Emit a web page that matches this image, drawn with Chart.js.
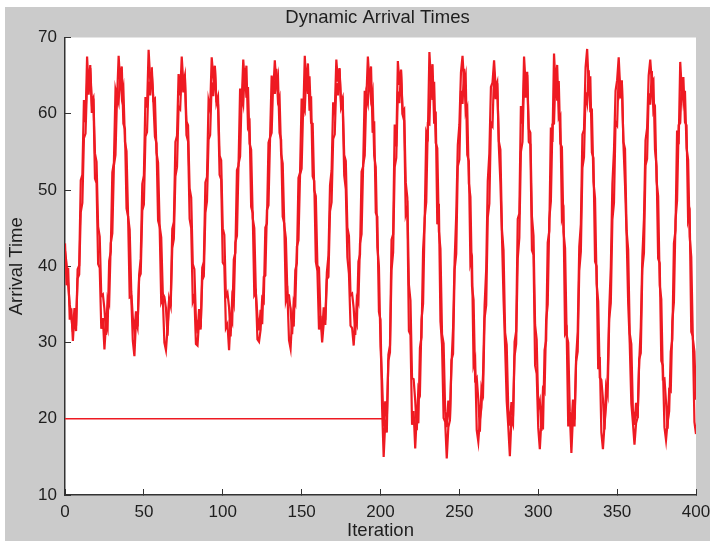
<!DOCTYPE html>
<html>
<head>
<meta charset="utf-8">
<title>Dynamic Arrival Times</title>
<script src="https://cdn.jsdelivr.net/npm/chart.js@4.4.1/dist/chart.umd.min.js"></script>
<style>
  html, body { margin: 0; padding: 0; background: #ffffff; }
  #chart { display: block; }
</style>
</head>
<body>
<canvas id="chart" width="710" height="541"></canvas>
<script>
// arrival times per iteration (0..400), one period at a time.
// two traces overlap: the outer one swings wider, the inner one sits inside it
const arrivalTimesA = [
  43.0, 37.5, 39.8, 33.0, 34.5,
  30.2, 33.8, 31.5, 39.6, 40.1, 51.3, 52.0, 61.8, 58.9, 67.5, 63.2, 66.4, 60.1, 62.0, 51.5, 50.9, 40.3, 39.8, 31.8, 33.2,
  29.1, 32.6, 31.8, 40.7, 41.9, 52.3, 53.6, 63.1, 62.0, 67.6, 64.1, 66.2, 58.7, 58.0, 47.6, 46.5, 35.9, 36.0, 30.2,
  28.2, 32.9, 32.0, 38.9, 41.0, 50.8, 51.9, 62.2, 60.8, 68.4, 64.5, 65.3, 61.7, 57.0, 56.1, 46.0, 45.2, 35.3, 35.9, 30.0,
  29.0, 31.8, 35.6, 35.2, 44.9, 45.8, 56.3, 57.1, 65.2, 62.4, 67.5, 64.0, 65.0, 57.2, 56.4, 46.2, 45.0, 35.4, 36.1, 29.8,
  29.6, 32.9, 31.7, 39.8, 40.6, 51.0, 51.7, 61.7, 60.6, 67.4, 64.8, 66.3, 61.6, 61.2, 52.0, 51.4, 40.5, 40.1, 31.9, 32.4,
  29.0, 33.2, 32.6, 40.9, 41.8, 52.6, 53.2, 63.3, 61.6, 67.1, 63.9, 66.3, 58.3, 58.8, 47.8, 47.0, 36.2, 36.6, 30.4,
  30.1, 31.7, 35.8, 35.4, 45.1, 45.6, 56.2, 56.9, 65.0, 62.7, 67.0, 63.8, 64.9, 57.5, 56.6, 46.5, 45.6, 35.5, 36.4, 30.3,
  29.2, 33.4, 32.1, 39.5, 40.4, 51.6, 52.3, 62.0, 59.6, 67.6, 63.4, 66.6, 60.4, 62.3, 51.8, 51.2, 40.6, 39.4, 31.7, 33.5,
  30.0, 32.5, 33.0, 39.2, 41.4, 50.6, 52.6, 61.5, 60.3, 67.1, 64.2, 65.9, 60.8, 61.5, 51.9, 50.1, 41.2, 39.0, 32.2, 31.9,
  29.6, 32.9, 32.3, 40.6, 41.5, 52.4, 53.1, 63.0, 61.8, 67.5, 64.0, 66.2, 57.5, 59.0, 47.0, 46.5, 34.0, 33.0, 21.5,
  15.0, 19.5, 18.2, 28.4, 29.6, 43.5, 44.2, 58.6, 55.7, 66.9, 63.8, 65.7, 59.9, 59.1, 46.8, 47.6, 31.5, 31.0, 19.2, 21.0,
  16.1, 20.6, 19.4, 29.3, 30.7, 42.2, 45.9, 57.6, 57.0, 68.1, 64.3, 66.5, 58.7, 60.3, 45.5, 48.2, 32.8, 29.7, 20.1, 19.6,
  14.8, 18.9, 19.8, 27.1, 31.9, 40.8, 46.7, 55.9, 58.6, 65.4, 67.6, 63.9, 65.0, 54.6, 53.8, 40.2, 40.9, 27.0, 27.8, 18.5,
  17.0, 19.9, 21.5, 25.8, 34.9, 39.6, 51.2, 54.8, 63.5, 64.1, 67.0, 63.4, 64.1, 55.8, 51.0, 43.9, 35.6, 29.4, 22.3, 19.0,
  15.1, 20.0, 19.3, 30.1, 31.5, 46.2, 46.9, 61.0, 58.7, 67.5, 63.8, 65.5, 56.3, 56.0, 42.1, 41.5, 27.0, 25.9, 18.8,
  16.0, 19.8, 18.6, 29.0, 30.2, 43.1, 44.6, 58.2, 56.3, 67.9, 63.5, 66.4, 59.4, 59.8, 46.3, 47.1, 31.2, 31.7, 19.0, 20.8,
  15.5, 20.3, 19.0, 28.0, 31.3, 42.6, 45.5, 57.3, 57.9, 66.1, 68.5, 63.6, 64.9, 54.9, 54.2, 40.6, 40.0, 26.5, 28.1, 18.2,
  16.0, 19.2, 21.8, 25.5, 34.4, 39.9, 50.8, 55.2, 63.0, 64.4, 67.4, 63.1, 64.4, 56.0, 50.7, 44.2, 35.2, 29.8, 22.0, 19.5,
  16.6, 19.4, 20.2, 27.5, 32.0, 41.3, 46.2, 56.5, 58.1, 65.0, 67.1, 64.2, 64.5, 55.3, 53.1, 41.0, 40.4, 27.6, 27.0, 18.9,
  17.2, 19.6, 21.0, 28.8, 30.4, 43.0, 44.7, 57.8, 56.0, 66.8, 63.0, 64.8, 58.9, 58.5, 46.0, 46.8, 31.4, 30.8, 19.6, 18.0
];

const arrivalTimesB = [
  42.0, 40.3, 37.6, 35.0, 33.4,
  31.4, 34.5, 32.2, 38.4, 38.9, 47.1, 48.3, 56.8, 57.4, 64.0, 62.5, 66.0, 61.6, 62.1, 54.8, 53.7, 45.2, 43.9, 36.1, 36.3,
  34.4, 31.0, 35.8, 35.1, 43.0, 44.3, 53.2, 54.6, 62.4, 61.5, 65.9, 62.3, 63.4, 56.3, 55.1, 46.5, 44.8, 36.7, 33.2,
  31.5, 34.1, 32.1, 38.5, 39.0, 47.3, 48.1, 57.0, 57.6, 64.2, 62.4, 66.1, 61.8, 62.0, 54.9, 53.6, 45.3, 43.8, 36.4, 36.0,
  34.5, 30.9, 35.7, 34.8, 42.4, 43.6, 51.8, 53.0, 60.9, 60.6, 65.7, 62.8, 64.8, 59.0, 58.5, 50.2, 49.0, 40.3, 39.6, 33.1,
  31.2, 34.4, 32.0, 38.2, 38.7, 47.0, 48.5, 56.6, 57.2, 64.1, 62.3, 66.2, 61.4, 62.2, 54.5, 53.9, 45.0, 44.1, 36.0, 36.5,
  34.6, 30.8, 35.9, 35.0, 43.1, 44.0, 53.4, 54.4, 62.5, 61.3, 66.0, 62.1, 63.5, 56.1, 55.3, 46.3, 45.0, 36.5, 33.4,
  31.6, 34.3, 32.4, 38.6, 38.8, 47.4, 48.0, 56.9, 57.5, 64.3, 62.6, 65.9, 61.7, 62.3, 54.7, 53.5, 45.4, 43.7, 36.3, 36.2,
  34.3, 31.1, 35.5, 35.0, 42.6, 43.4, 52.0, 52.8, 61.0, 60.4, 65.8, 62.6, 64.9, 58.8, 58.7, 50.0, 49.2, 40.1, 39.8, 32.9,
  31.3, 34.6, 32.3, 38.3, 38.6, 47.2, 48.4, 56.7, 57.3, 64.0, 62.4, 66.0, 61.5, 62.1, 54.6, 53.8, 45.1, 44.0, 36.2, 36.4,
  34.5, 31.0, 35.8, 35.2, 43.0, 44.2, 53.3, 54.5, 62.4, 61.4, 65.8, 62.0, 63.0, 54.5, 53.0, 42.5, 40.0, 29.5, 25.0,
  19.0, 22.3, 20.0, 27.6, 28.7, 39.5, 41.8, 53.0, 54.2, 62.9, 61.4, 65.8, 60.3, 60.6, 51.0, 49.0, 37.6, 35.5, 25.3, 25.2,
  22.4, 18.5, 24.0, 23.4, 33.0, 35.1, 46.3, 48.4, 58.7, 58.6, 65.6, 61.8, 64.2, 56.2, 55.5, 44.6, 42.3, 31.1, 29.9, 21.0,
  18.9, 22.4, 19.8, 27.7, 28.5, 39.6, 41.6, 53.1, 54.0, 63.0, 61.3, 65.9, 60.1, 60.8, 50.9, 49.1, 37.4, 35.6, 25.1, 25.4,
  22.5, 18.3, 24.1, 23.3, 33.2, 34.9, 46.4, 48.2, 58.8, 58.4, 65.5, 61.9, 64.0, 56.4, 55.3, 44.8, 42.1, 31.3, 29.7, 21.2,
  19.1, 22.2, 20.3, 28.2, 29.8, 41.0, 43.7, 55.0, 56.3, 64.4, 62.1, 65.1, 58.0, 57.5, 46.5, 44.0, 32.3, 30.4, 21.4,
  22.3, 18.4, 23.9, 23.5, 32.9, 35.0, 46.2, 48.5, 58.6, 58.7, 65.7, 61.7, 64.3, 56.1, 55.6, 44.5, 42.4, 31.0, 30.0, 20.9,
  19.0, 22.5, 19.9, 27.5, 28.8, 39.4, 41.9, 52.9, 54.3, 62.8, 61.5, 65.7, 60.4, 60.5, 51.1, 48.9, 37.7, 35.4, 25.4, 25.1,
  22.6, 18.6, 24.2, 23.2, 33.1, 35.2, 46.1, 48.3, 58.9, 58.5, 65.4, 62.0, 64.1, 56.3, 55.4, 44.7, 42.2, 31.2, 29.8, 21.1,
  19.2, 22.1, 20.1, 27.8, 28.6, 39.7, 41.7, 53.2, 54.1, 62.7, 61.2, 65.6, 60.2, 60.7, 51.2, 49.2, 37.5, 35.7, 25.2, 25.3,
  22.2, 18.7, 23.8, 23.6, 32.8, 35.3, 46.0, 48.6, 58.5, 58.8, 64.6, 61.6, 63.0, 55.5, 54.0, 43.9, 41.2, 30.5, 28.8, 22.5
];

// flat trace at 20 for the first half
const baselineIters = [0, 201];
const baselineTimes = [20, 20];

const xTicks = [0, 50, 100, 150, 200, 250, 300, 350, 400];
const yTicks = [10, 20, 30, 40, 50, 60, 70];

const RED = "#ee1a22";
const INK = "#1e1e1e";
const FONT = "'Liberation Sans', Arial, sans-serif";

const backdrop = {
  id: "backdrop",
  beforeDraw(chart) {
    const { ctx, width, height, chartArea } = chart;
    ctx.save();
    ctx.fillStyle = "#ffffff";
    ctx.fillRect(0, 0, width, height);
    ctx.fillStyle = "#cbcbcb";
    ctx.fillRect(5, 7, width - 5, height - 7);
    ctx.fillStyle = "#ffffff";
    ctx.fillRect(chartArea.left, chartArea.top, chartArea.right - chartArea.left, chartArea.bottom - chartArea.top);
    ctx.restore();
  },
  afterLayout(chart) {
    // center the title over the axes, like matlab does
    chart.titleBlock.left = chart.chartArea.left - 6;
    chart.titleBlock.right = chart.chartArea.right;
  },
};

function trace(values) {
  return {
    data: values.map((v, i) => ({ x: i, y: v })),
    borderColor: RED,
    borderWidth: 2.2,
    pointRadius: 0,
    tension: 0,
  };
}

const chart = new Chart(document.getElementById("chart").getContext("2d"), {
  type: "line",
  data: {
    datasets: [
      {
        data: baselineIters.map((x, i) => ({ x: x, y: baselineTimes[i] })),
        borderColor: RED,
        borderWidth: 1.3,
        pointRadius: 0,
      },
      trace(arrivalTimesB),
      trace(arrivalTimesA),
    ],
  },
  options: {
    responsive: false,
    animation: false,
    layout: { padding: { left: 0, right: 14, top: 0, bottom: 0 } },
    plugins: {
      legend: { display: false },
      tooltip: { enabled: false },
      title: {
        display: true,
        text: "Dynamic Arrival Times",
        color: INK,
        font: { family: FONT, size: 18.5, weight: "normal" },
        padding: { top: 7, bottom: 8.3 },
      },
    },
    scales: {
      x: {
        type: "linear",
        min: 0,
        max: 400,
        afterFit: (s) => {
          s.height = 46;
          s.paddingLeft = 0;
          s.paddingRight = 0;
        },
        afterBuildTicks: (s) => { s.ticks = xTicks.map((v) => ({ value: v })); },
        ticks: { color: INK, padding: 13, font: { family: FONT, size: 17 }, maxRotation: 0 },
        grid: { drawOnChartArea: false, tickLength: -6, color: "#333333" },
        border: { display: true, color: "#333333", width: 1.5 },
        title: {
          display: true,
          text: "Iteration",
          color: INK,
          font: { family: FONT, size: 18.5 },
          padding: { top: 0, bottom: -1 },
        },
      },
      y: {
        type: "linear",
        min: 10,
        max: 70,
        afterFit: (s) => { s.width = 65; },
        afterBuildTicks: (s) => { s.ticks = yTicks.map((v) => ({ value: v })); },
        ticks: { color: INK, padding: 14, font: { family: FONT, size: 17 } },
        grid: { drawOnChartArea: false, tickLength: -6, color: "#333333" },
        border: { display: true, color: "#333333", width: 1.5 },
        title: {
          display: true,
          text: "Arrival Time",
          color: INK,
          font: { family: FONT, size: 18.5 },
          padding: { top: 6, bottom: 0 },
        },
      },
    },
  },
  plugins: [backdrop],
});
</script>
</body>
</html>
